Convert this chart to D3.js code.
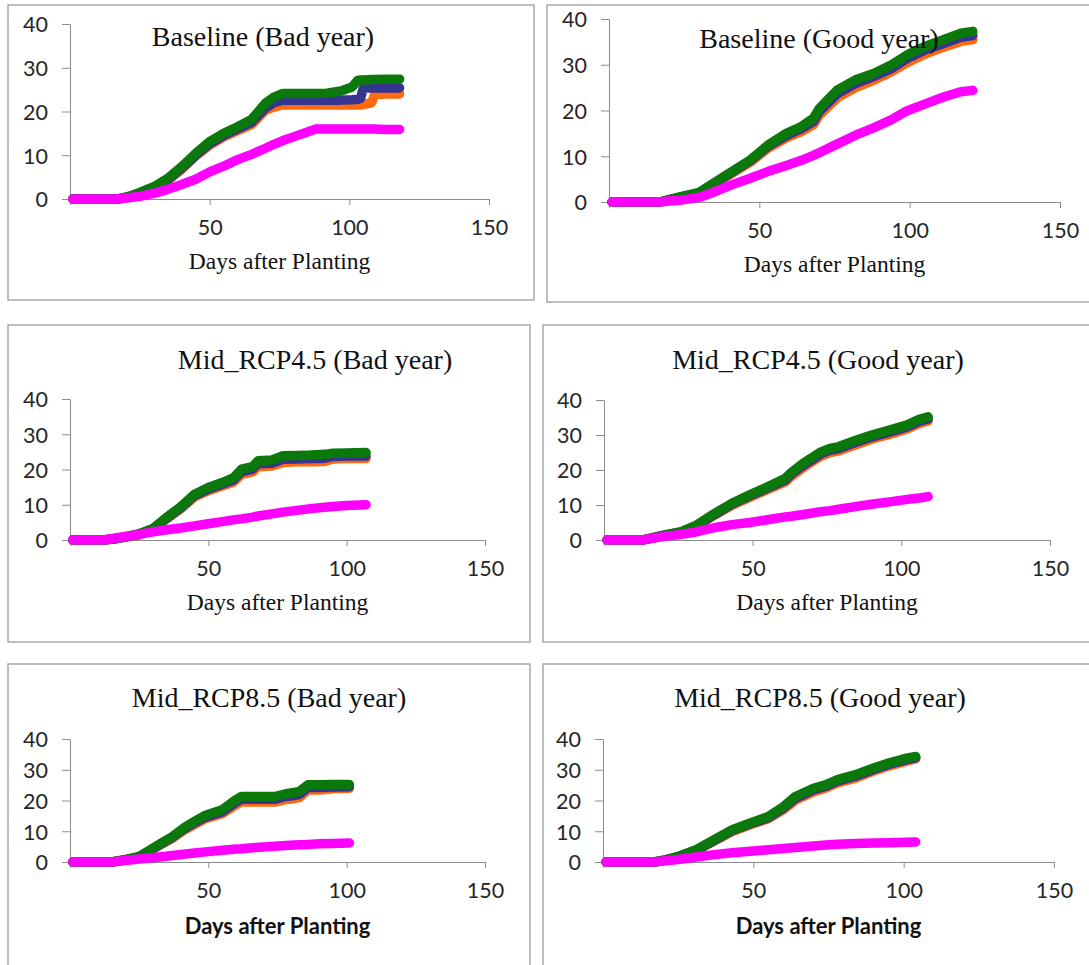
<!DOCTYPE html>
<html>
<head>
<meta charset="utf-8">
<script src="https://cdn.jsdelivr.net/npm/d3@7"></script>
<style>
  body { margin: 0; background: #fff; }
  svg { display: block; }
</style>
</head>
<body>
<svg id="chart" width="1089" height="965"></svg>
<script>
// Six panels of cumulative values vs days after planting

const titles = [
  'Baseline (Bad year)', 'Baseline (Good year)',
  'Mid_RCP4.5 (Bad year)', 'Mid_RCP4.5 (Good year)',
  'Mid_RCP8.5 (Bad year)', 'Mid_RCP8.5 (Good year)'
];
const xLabel = 'Days after Planting';
const xTicks = [50, 100, 150];
const yTicks = [0, 10, 20, 30, 40];

// Baseline, bad year
const baseBadDays    = [1, 17, 21, 25, 30, 35, 40, 45, 50, 55, 60, 65, 70, 73, 76, 80, 85, 88, 92, 97, 101, 103, 104, 105, 108, 109, 113, 118];
const baseBadOrange  = [0, 0, 0.4, 1.2, 2.5, 4.2, 6.8, 9.8, 12.3, 14.2, 15.6, 17.0, 20.3, 21.0, 21.5, 21.5, 21.5, 21.5, 21.5, 21.5, 21.5, 21.5, 21.5, 21.6, 22.0, 23.8, 24.0, 24.0];
const baseBadBlue    = [0, 0, 0.5, 1.3, 2.6, 4.4, 7.0, 10.0, 12.6, 14.5, 16.0, 17.5, 20.8, 22.0, 22.6, 22.6, 22.6, 22.6, 22.6, 22.6, 22.7, 22.8, 23.0, 25.3, 25.4, 25.4, 25.4, 25.4];
const baseBadGreen   = [0, 0, 0.6, 1.5, 2.8, 4.7, 7.4, 10.4, 13.1, 15.0, 16.5, 18.2, 21.9, 23.3, 24.1, 24.1, 24.1, 24.1, 24.2, 24.7, 25.6, 27.1, 27.2, 27.2, 27.3, 27.3, 27.4, 27.4];
const baseBadMagenta = [0, 0, 0.3, 0.6, 1.3, 2.2, 3.3, 4.5, 6.2, 7.5, 9.0, 10.2, 11.6, 12.5, 13.3, 14.2, 15.3, 16.0, 16.0, 16.0, 16.0, 16.0, 16.0, 16.0, 16.0, 16.0, 15.9, 15.9];

// Baseline, good year
const baseGoodDays    = [1, 17, 20, 24, 30, 35, 41, 47, 53, 59, 64, 68, 70, 76, 82, 88, 94, 99, 105, 111, 117, 121];
const baseGoodOrange  = [0, 0, 0.4, 1.0, 1.9, 3.9, 6.3, 8.7, 11.8, 14.0, 15.4, 16.9, 19.0, 22.8, 25.0, 26.6, 28.5, 30.4, 32.3, 33.8, 35.1, 35.5];
const baseGoodBlue    = [0, 0, 0.5, 1.1, 2.0, 4.1, 6.5, 9.0, 12.2, 14.5, 16.0, 17.6, 19.8, 23.7, 25.9, 27.4, 29.2, 31.3, 33.2, 34.6, 36.0, 36.4];
const baseGoodGreen   = [0, 0, 0.5, 1.2, 2.1, 4.2, 6.7, 9.2, 12.5, 15.0, 16.5, 18.3, 20.5, 24.5, 26.7, 28.1, 30.0, 32.1, 34.0, 35.4, 36.9, 37.3];
const baseGoodMagenta = [0, 0, 0.2, 0.4, 1.0, 2.2, 3.8, 5.2, 6.7, 8.0, 9.1, 10.2, 10.8, 12.7, 14.6, 16.2, 18.0, 19.9, 21.4, 22.9, 24.1, 24.4];

// Mid RCP4.5, bad year
const rcp45BadDays    = [1, 12, 16, 20, 25, 30, 35, 40, 45, 50, 55, 59, 62, 66, 68, 73, 77, 82, 87, 92, 95, 100, 107];
const rcp45BadOrange  = [0, 0, 0.3, 0.8, 1.5, 3.0, 6.0, 8.8, 12.2, 14.0, 15.3, 16.4, 18.6, 19.3, 20.8, 21.0, 22.0, 22.2, 22.2, 22.3, 23.0, 23.1, 23.1];
const rcp45BadBlue    = [0, 0, 0.3, 0.8, 1.6, 3.1, 6.2, 9.1, 12.6, 14.4, 15.8, 17.0, 19.3, 20.1, 21.6, 21.8, 22.9, 23.0, 23.1, 23.2, 23.7, 23.8, 23.8];
const rcp45BadGreen   = [0, 0, 0.4, 0.9, 1.8, 3.3, 6.5, 9.4, 13.0, 14.9, 16.3, 17.6, 20.1, 20.8, 22.5, 22.7, 23.9, 24.0, 24.1, 24.3, 24.6, 24.7, 24.8];
const rcp45BadMagenta = [0, 0, 0.5, 1.0, 1.6, 2.3, 2.9, 3.4, 4.0, 4.6, 5.2, 5.7, 6.0, 6.5, 6.8, 7.4, 7.9, 8.4, 8.9, 9.3, 9.5, 9.8, 10.0];

// Mid RCP4.5, good year
const rcp45GoodDays    = [1, 13, 17, 20, 26, 31, 37, 43, 49, 55, 61, 63, 67, 73, 76, 79, 85, 90, 96, 102, 106, 109];
const rcp45GoodOrange  = [0, 0, 0.7, 1.2, 2.2, 3.8, 7.0, 9.9, 12.2, 14.4, 16.6, 18.2, 20.7, 24.0, 25.0, 25.5, 27.3, 28.8, 30.2, 31.7, 33.3, 34.0];
const rcp45GoodBlue    = [0, 0, 0.7, 1.3, 2.3, 4.0, 7.2, 10.2, 12.6, 14.8, 17.1, 18.8, 21.3, 24.6, 25.6, 26.1, 28.0, 29.4, 30.8, 32.3, 33.9, 34.6];
const rcp45GoodGreen   = [0, 0, 0.8, 1.4, 2.4, 4.2, 7.5, 10.5, 12.9, 15.2, 17.6, 19.3, 21.9, 25.2, 26.2, 26.7, 28.6, 30.0, 31.4, 32.9, 34.5, 35.2];
const rcp45GoodMagenta = [0, 0, 0.6, 1.0, 1.6, 2.3, 3.5, 4.4, 5.0, 5.8, 6.6, 6.8, 7.3, 8.1, 8.4, 8.8, 9.6, 10.2, 10.9, 11.6, 12.0, 12.4];

// Mid RCP8.5, bad year
const rcp85BadDays    = [1, 15, 20, 25, 29, 33, 37, 41, 45, 49, 55, 60, 62, 67, 74, 78, 81, 83, 86, 90, 95, 101];
const rcp85BadOrange  = [0, 0, 0.7, 1.6, 3.6, 5.7, 7.7, 10.2, 12.2, 14.1, 15.7, 18.6, 19.5, 19.5, 19.5, 20.3, 20.6, 21.0, 23.4, 23.4, 23.8, 24.0];
const rcp85BadBlue    = [0, 0, 0.7, 1.7, 3.8, 5.9, 8.0, 10.6, 12.7, 14.6, 16.3, 19.4, 20.4, 20.4, 20.4, 21.3, 21.6, 22.0, 24.2, 24.2, 24.4, 24.5];
const rcp85BadGreen   = [0, 0, 0.8, 1.8, 4.0, 6.2, 8.3, 11.0, 13.2, 15.2, 17.0, 20.3, 21.3, 21.3, 21.3, 22.2, 22.6, 23.0, 25.1, 25.1, 25.2, 25.2];
const rcp85BadMagenta = [0, 0, 0.5, 1.0, 1.3, 1.7, 2.1, 2.5, 2.9, 3.3, 3.8, 4.2, 4.3, 4.7, 5.1, 5.4, 5.5, 5.6, 5.7, 5.9, 6.0, 6.2];

// Mid RCP8.5, good year
const rcp85GoodDays    = [1, 17, 21, 25, 31, 37, 43, 49, 55, 60, 64, 70, 74, 78, 84, 90, 95, 101, 104];
const rcp85GoodOrange  = [0, 0, 0.7, 1.6, 3.7, 6.8, 9.9, 12.1, 14.1, 17.0, 20.1, 22.8, 24.0, 25.7, 27.3, 29.6, 31.2, 32.8, 33.5];
const rcp85GoodBlue    = [0, 0, 0.7, 1.7, 3.8, 7.0, 10.2, 12.4, 14.4, 17.5, 20.7, 23.4, 24.6, 26.3, 27.9, 30.1, 31.7, 33.3, 33.9];
const rcp85GoodGreen   = [0, 0, 0.8, 1.8, 4.0, 7.3, 10.5, 12.7, 14.8, 18.0, 21.3, 24.0, 25.1, 26.8, 28.4, 30.6, 32.2, 33.8, 34.3];
const rcp85GoodMagenta = [0, 0, 0.4, 0.8, 1.6, 2.4, 3.0, 3.5, 4.0, 4.4, 4.7, 5.2, 5.5, 5.8, 6.0, 6.2, 6.3, 6.4, 6.5];

const panelData = [
  { days: baseBadDays,   series: [baseBadOrange, baseBadBlue, baseBadGreen, baseBadMagenta] },
  { days: baseGoodDays,  series: [baseGoodOrange, baseGoodBlue, baseGoodGreen, baseGoodMagenta] },
  { days: rcp45BadDays,  series: [rcp45BadOrange, rcp45BadBlue, rcp45BadGreen, rcp45BadMagenta] },
  { days: rcp45GoodDays, series: [rcp45GoodOrange, rcp45GoodBlue, rcp45GoodGreen, rcp45GoodMagenta] },
  { days: rcp85BadDays,  series: [rcp85BadOrange, rcp85BadBlue, rcp85BadGreen, rcp85BadMagenta] },
  { days: rcp85GoodDays, series: [rcp85GoodOrange, rcp85GoodBlue, rcp85GoodGreen, rcp85GoodMagenta] }
];

const seriesColors = ['#ff6a10', '#35358f', '#0a780a', '#ff00ff'];

// panel frames and plot areas (pixels)
const layout = [
  { box: [8, 5, 534, 300],   x: [70, 489],   y: [199, 24],  tx: 263, ty: 46,  bold: false },
  { box: [547, 5, 1100, 302], x: [609, 1060], y: [202, 19],  tx: 819, ty: 48,  bold: false },
  { box: [8, 325, 530, 642],  x: [70, 485],   y: [540, 399], tx: 315, ty: 369, bold: false },
  { box: [543, 325, 1100, 642], x: [604, 1050], y: [540, 400], tx: 818, ty: 369, bold: false },
  { box: [8, 664, 530, 980],  x: [70, 485],   y: [862, 739], tx: 269, ty: 707, bold: true },
  { box: [543, 664, 1100, 980], x: [603, 1054], y: [862, 739], tx: 820, ty: 707, bold: true }
];

const svg = d3.select('#chart');
svg.append('rect').attr('width', 1089).attr('height', 965).attr('fill', '#fff');

layout.forEach((L, i) => {
  const g = svg.append('g');
  const [bx0, by0, bx1, by1] = L.box;

  g.append('rect')
    .attr('x', bx0).attr('y', by0)
    .attr('width', bx1 - bx0).attr('height', by1 - by0)
    .attr('fill', '#fff')
    .attr('stroke', '#a8a8a8')
    .attr('stroke-width', 1.5);

  const x = d3.scaleLinear().domain([0, 150]).range(L.x);
  const y = d3.scaleLinear().domain([0, 40]).range(L.y);

  // y axis
  const ya = g.append('g')
    .attr('transform', `translate(${L.x[0]},0)`)
    .call(d3.axisLeft(y).tickValues(yTicks).tickSize(8).tickSizeOuter(0).tickPadding(14));

  // x axis
  const xa = g.append('g')
    .attr('transform', `translate(0,${L.y[0]})`)
    .call(d3.axisBottom(x).tickValues(xTicks).tickSize(6).tickSizeOuter(6).tickPadding(15));

  [ya, xa].forEach(a => {
    a.select('.domain').attr('stroke', '#8c8c8c');
    a.selectAll('.tick line').attr('stroke', '#8c8c8c');
    a.selectAll('.tick text')
      .attr('fill', '#262626')
      .style('font-family', 'Lato, "Open Sans", sans-serif')
      .style('font-size', '21.5px');
  });
  ya.selectAll('.tick text').attr('dy', '0.36em');

  // series
  const d = panelData[i];
  const line = d3.line()
    .x((v, k) => x(d.days[k]))
    .y(v => y(v));
  d.series.forEach((vals, s) => {
    g.append('path')
      .datum(vals)
      .attr('d', line)
      .attr('fill', 'none')
      .attr('stroke', seriesColors[s])
      .attr('stroke-width', 9.5)
      .attr('stroke-linecap', 'round')
      .attr('stroke-linejoin', 'round');
  });

  // title
  g.append('text')
    .attr('x', L.tx).attr('y', L.ty)
    .attr('text-anchor', 'middle')
    .style('font-family', '"Liberation Serif", "Times New Roman", serif')
    .style('font-size', '28px')
    .attr('fill', '#111')
    .text(titles[i]);

  // x label
  const lab = g.append('text')
    .attr('x', (L.x[0] + L.x[1]) / 2)
    .attr('text-anchor', 'middle')
    .attr('fill', '#111')
    .text(xLabel);
  if (L.bold) {
    lab.attr('y', L.y[0] + 72)
      .style('font-family', 'Lato, "Open Sans", sans-serif')
      .style('font-weight', 'bold')
      .style('font-size', '22px');
  } else {
    lab.attr('y', L.y[0] + 70)
      .style('font-family', '"Liberation Serif", "Times New Roman", serif')
      .style('font-size', '23.5px');
  }
});
</script>
</body>
</html>
